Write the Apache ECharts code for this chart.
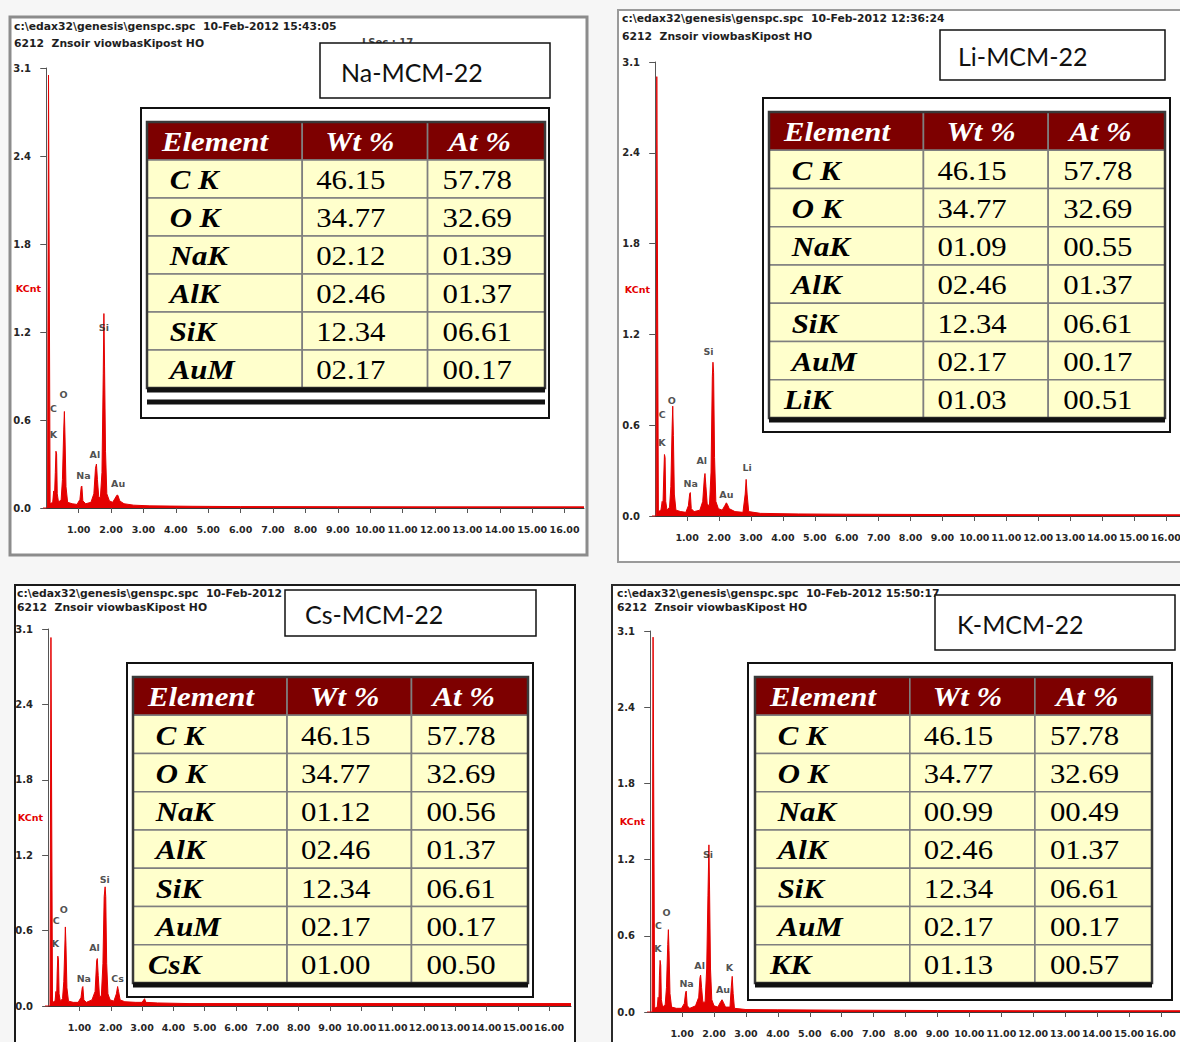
<!DOCTYPE html>
<html><head><meta charset="utf-8">
<script src="https://cdn.jsdelivr.net/npm/echarts@6/dist/echarts.min.js"></script>
<style>html,body{margin:0;padding:0;background:#f6f6f6;}#c{width:1180px;height:1042px;}</style>
</head><body><div id="c"></div>
<script>
// ---------------- DATA ----------------
const sampleTitles = ['Na-MCM-22', 'Li-MCM-22', 'Cs-MCM-22', 'K-MCM-22'];
const headerLine1 = [
  'c:\\edax32\\genesis\\genspc.spc  10-Feb-2012 15:43:05',
  'c:\\edax32\\genesis\\genspc.spc  10-Feb-2012 12:36:24',
  'c:\\edax32\\genesis\\genspc.spc  10-Feb-2012',
  'c:\\edax32\\genesis\\genspc.spc  10-Feb-2012 15:50:17'
];
const headerLine2 = '6212  Znsoir viowbasKipost HO';
const liveTimeNote = 'LSec : 17';
const yAxisName = 'KCnt';
const xTickValues = [1,2,3,4,5,6,7,8,9,10,11,12,13,14,15,16];
const yTickLabels = ['0.0','0.6','1.2','1.8','2.4','3.1'];
const yFullScale = 3.1;

const tableHeaders = ['Element', 'Wt %', 'At %'];

const naElements = ['\u00a0C K','\u00a0O K','\u00a0NaK','\u00a0AlK','\u00a0SiK','\u00a0AuM'];
const naWt = [46.15, 34.77, 2.12, 2.46, 12.34, 2.17];
const naAt = [57.78, 32.69, 1.39, 1.37, 6.61, 0.17];

const liElements = ['\u00a0C K','\u00a0O K','\u00a0NaK','\u00a0AlK','\u00a0SiK','\u00a0AuM','LiK'];
const liWt = [46.15, 34.77, 1.09, 2.46, 12.34, 2.17, 1.03];
const liAt = [57.78, 32.69, 0.55, 1.37, 6.61, 0.17, 0.51];

const csElements = ['\u00a0C K','\u00a0O K','\u00a0NaK','\u00a0AlK','\u00a0SiK','\u00a0AuM','CsK'];
const csWt = [46.15, 34.77, 1.12, 2.46, 12.34, 2.17, 1.00];
const csAt = [57.78, 32.69, 0.56, 1.37, 6.61, 0.17, 0.50];

const kElements = ['\u00a0C K','\u00a0O K','\u00a0NaK','\u00a0AlK','\u00a0SiK','\u00a0AuM','KK'];
const kWt = [46.15, 34.77, 0.99, 2.46, 12.34, 2.17, 1.13];
const kAt = [57.78, 32.69, 0.49, 1.37, 6.61, 0.17, 0.57];

// spectra: [energy keV, KCnt]
const naSpectrum = [[-0.1,0],[0.04,0],[0.07,3.05],[0.09,3.05],[0.12,0.03],[0.2,0.04],[0.23,0.12],[0.25,0.05],[0.28,0.25],[0.30,0.40],[0.32,0.38],[0.34,0.1],[0.38,0.04],[0.46,0.06],[0.50,0.2],[0.54,0.55],[0.56,0.68],[0.58,0.5],[0.61,0.15],[0.66,0.04],[0.8,0.03],[0.95,0.025],[1.04,0.06],[1.08,0.15],[1.10,0.155],[1.13,0.05],[1.22,0.03],[1.38,0.04],[1.47,0.1],[1.52,0.28],[1.55,0.31],[1.58,0.2],[1.62,0.08],[1.67,0.07],[1.72,0.25],[1.76,0.95],[1.78,1.37],[1.80,1.0],[1.83,0.4],[1.87,0.1],[1.95,0.05],[2.05,0.04],[2.13,0.07],[2.18,0.09],[2.21,0.09],[2.27,0.05],[2.4,0.03],[2.7,0.02],[3.2,0.015],[4.5,0.012],[6,0.01],[9,0.009],[12,0.008],[16.6,0.008]];
const liSpectrum = [[-0.1,0],[0.03,0],[0.05,3.0],[0.07,3.0],[0.1,0.03],[0.18,0.04],[0.22,0.1],[0.24,0.05],[0.27,0.28],[0.29,0.42],[0.31,0.4],[0.33,0.1],[0.37,0.04],[0.45,0.06],[0.49,0.2],[0.53,0.6],[0.55,0.75],[0.57,0.55],[0.6,0.15],[0.65,0.04],[0.8,0.03],[0.96,0.025],[1.04,0.07],[1.08,0.15],[1.10,0.16],[1.13,0.05],[1.22,0.03],[1.4,0.04],[1.49,0.1],[1.54,0.26],[1.56,0.29],[1.59,0.2],[1.63,0.08],[1.7,0.07],[1.75,0.3],[1.79,0.95],[1.81,1.05],[1.83,0.98],[1.86,0.4],[1.9,0.1],[1.98,0.05],[2.1,0.04],[2.18,0.07],[2.23,0.09],[2.26,0.08],[2.32,0.05],[2.5,0.03],[2.75,0.025],[2.82,0.15],[2.85,0.25],[2.88,0.15],[2.93,0.03],[3.3,0.018],[4.5,0.014],[6,0.012],[9,0.01],[12,0.009],[16.6,0.008]];
const csSpectrum = [[-0.1,0],[0.06,0],[0.09,3.03],[0.11,3.03],[0.14,0.03],[0.22,0.04],[0.25,0.12],[0.27,0.05],[0.29,0.28],[0.31,0.41],[0.33,0.38],[0.35,0.1],[0.39,0.04],[0.46,0.06],[0.5,0.2],[0.54,0.55],[0.55,0.65],[0.57,0.5],[0.6,0.15],[0.65,0.04],[0.8,0.03],[0.96,0.03],[1.05,0.07],[1.09,0.15],[1.11,0.16],[1.14,0.05],[1.22,0.03],[1.4,0.05],[1.5,0.12],[1.55,0.37],[1.57,0.39],[1.6,0.25],[1.64,0.08],[1.7,0.08],[1.75,0.35],[1.79,0.9],[1.82,0.98],[1.84,0.9],[1.87,0.35],[1.91,0.1],[1.98,0.05],[2.1,0.04],[2.18,0.1],[2.22,0.16],[2.25,0.12],[2.3,0.05],[2.45,0.035],[2.8,0.03],[3.0,0.03],[3.08,0.06],[3.12,0.03],[3.5,0.025],[4.5,0.02],[6,0.02],[8,0.02],[10,0.02],[12,0.02],[14,0.02],[16.7,0.02]];
const kSpectrum = [[-0.1,0],[0.06,0],[0.09,3.05],[0.11,3.05],[0.14,0.03],[0.22,0.04],[0.25,0.12],[0.27,0.05],[0.29,0.3],[0.31,0.42],[0.33,0.38],[0.35,0.1],[0.39,0.04],[0.47,0.06],[0.51,0.2],[0.55,0.55],[0.57,0.67],[0.59,0.5],[0.62,0.15],[0.67,0.04],[0.82,0.03],[0.98,0.03],[1.07,0.07],[1.11,0.16],[1.13,0.17],[1.16,0.05],[1.24,0.03],[1.42,0.05],[1.52,0.12],[1.56,0.28],[1.58,0.30],[1.61,0.2],[1.65,0.08],[1.72,0.08],[1.77,0.35],[1.81,0.95],[1.84,1.36],[1.86,1.0],[1.89,0.35],[1.93,0.1],[2.0,0.05],[2.12,0.04],[2.2,0.08],[2.25,0.1],[2.29,0.08],[2.36,0.04],[2.5,0.04],[2.54,0.2],[2.57,0.29],[2.6,0.15],[2.64,0.03],[3.0,0.02],[4,0.018],[6,0.015],[9,0.012],[12,0.01],[16.6,0.01]];

// peak labels: [text, energy, KCnt]
const naPeakLabels = [['C',0.22,0.70],['K',0.22,0.515],['O',0.53,0.80],['Na',1.15,0.23],['Al',1.50,0.38],['Si',1.78,1.27],['Au',2.22,0.17]];
const liPeakLabels = [['C',0.22,0.69],['K',0.21,0.50],['O',0.52,0.79],['Na',1.11,0.22],['Al',1.46,0.38],['Si',1.67,1.12],['Au',2.23,0.15],['Li',2.88,0.33]];
const csPeakLabels = [['C',0.26,0.70],['K',0.23,0.51],['O',0.50,0.79],['Na',1.14,0.23],['Al',1.48,0.48],['Si',1.81,1.04],['Cs',2.22,0.23]];
const kPeakLabels = [['C',0.26,0.70],['K',0.24,0.52],['O',0.51,0.81],['Na',1.14,0.23],['Al',1.55,0.38],['Si',1.81,1.28],['Au',2.28,0.18],['K',2.48,0.36]];

// ---------------- LAYOUT / STYLE ----------------
const LAYOUT = [
  { frame:[10,17,577,538,'#8c8c8c',3], grid:[43,68,541,440], xMax:16.6, head:[14,26,43], title:[320,43,230,55,341], box:[141,108,408,310], table:[147,122,398,266], doubleLine:true, note:[362,42] },
  { frame:[618,10,580,552,'#9a9a9a',2], grid:[652,62,533,454], xMax:16.6, head:[622,18,36], title:[940,30,225,50,958], box:[763,98,407,334], table:[769,112,396,306] },
  { frame:[15,585,560,470,'#1a1a1a',2], grid:[45,629,526,377], xMax:16.7, head:[17,593,607], title:[285,590,251,46,305], box:[127,663,406,334], table:[133,677,395,306] },
  { frame:[612,585,580,470,'#2a2a2a',2], grid:[647,631,533,381], xMax:16.6, head:[617,593,607], title:[935,595,240,55,957], box:[748,663,424,337], table:[755,677,397,306] }
];
const COL_FRAC = [0.39, 0.315, 0.295];
const HEADER_PAD = [15, 23, 21];
const BODY_PAD = [15, 14, 15];
const RED = '#e40000';
const SANS = 'DejaVu Sans';
const XLABEL_FONT = { fontFamily:SANS, fontWeight:'bold', fontSize:9.5, color:'#262626' };
const YLABEL_FONT = { fontFamily:SANS, fontWeight:'bold', fontSize:10, color:'#262626' };

const spectra = [naSpectrum, liSpectrum, csSpectrum, kSpectrum];
const peakLabels = [naPeakLabels, liPeakLabels, csPeakLabels, kPeakLabels];
const tables = [
  { el: naElements, wt: naWt, at: naAt },
  { el: liElements, wt: liWt, at: liAt },
  { el: csElements, wt: csWt, at: csAt },
  { el: kElements, wt: kWt, at: kAt }
];
const fmt = v => v.toFixed(2).padStart(5, '0');

// ---------------- BUILD ----------------
const grid = [], xAxis = [], yAxis = [], series = [], graphics = [];

LAYOUT.forEach((L, i) => {
  grid.push({ left: L.grid[0], top: L.grid[1], width: L.grid[2], height: L.grid[3], containLabel:false, outerBoundsMode:'none' });
  xAxis.push({
    type:'value', gridIndex:i, min:-0.1, max:L.xMax,
    axisLine:{ show:true, onZero:false, lineStyle:{ color:'#3a3a3a', width:1 } },
    axisTick:{ show:true, length:5, customValues:xTickValues, lineStyle:{ color:'#555' } },
    axisLabel:Object.assign({ customValues:xTickValues, margin:16, formatter:v => v.toFixed(2), hideOverlap:false, showMinLabel:true, showMaxLabel:true }, XLABEL_FONT),
    splitLine:{ show:false }
  });
  yAxis.push({
    type:'value', gridIndex:i, min:0, max:yFullScale, interval:yFullScale/5,
    name:yAxisName, nameLocation:'middle', nameRotate:0, nameGap:2, nameMoveOverlap:false,
    nameTextStyle:{ color:RED, fontFamily:SANS, fontWeight:'bold', fontSize:9.5 },
    axisLine:{ show:true, lineStyle:{ color:'#555', width:1 } },
    axisTick:{ show:true, length:6, lineStyle:{ color:'#555' } },
    axisLabel:Object.assign({ margin:12, showMinLabel:true, showMaxLabel:true, formatter:v => yTickLabels[Math.round(v / (yFullScale/5))] }, YLABEL_FONT),
    splitLine:{ show:false }
  });
  series.push({
    type:'line', xAxisIndex:i, yAxisIndex:i, data:spectra[i], symbol:'none', silent:true, z:2,
    lineStyle:{ color:RED, width:1 }, areaStyle:{ color:RED, opacity:1 }
  });
  series.push({
    type:'scatter', xAxisIndex:i, yAxisIndex:i, symbolSize:0, silent:true, z:3,
    data:peakLabels[i].map(p => ({ name:p[0], value:[p[1], p[2]] })),
    label:{ show:true, position:'inside', formatter:'{b}', fontFamily:SANS, fontWeight:'bold', fontSize:9.5, color:'#222' }
  });

  // frame & decorations
  const f = L.frame;
  graphics.push({ type:'rect', z:-10, shape:{ x:f[0], y:f[1], width:f[2], height:f[3] }, style:{ fill:'#ffffff', stroke:f[4], lineWidth:f[5] } });
  graphics.push({ type:'text', z:1, x:L.head[0], y:L.head[1], style:{ text:headerLine1[i], fontFamily:SANS, fontWeight:'bold', fontSize:10.8, fill:'#1e1e1e', verticalAlign:'middle' } });
  graphics.push({ type:'text', z:1, x:L.head[0], y:L.head[2], style:{ text:headerLine2, fontFamily:SANS, fontWeight:'bold', fontSize:10.8, fill:'#1e1e1e', verticalAlign:'middle' } });
  if (L.note) graphics.push({ type:'text', z:1, x:L.note[0], y:L.note[1], style:{ text:liveTimeNote, fontFamily:SANS, fontWeight:'bold', fontSize:10, fill:'#444', verticalAlign:'middle' } });
  const t = L.title;
  graphics.push({ type:'rect', z:30, shape:{ x:t[0], y:t[1], width:t[2], height:t[3] }, style:{ fill:'#fff', stroke:'#111', lineWidth:1.5 } });
  graphics.push({ type:'text', z:31, x:t[4], y:t[1] + t[3]/2 + 1, style:{ text:sampleTitles[i], fontFamily:'Lato', fontSize:25, fill:'#111', verticalAlign:'middle' } });
  const b = L.box;
  graphics.push({ type:'rect', z:15, shape:{ x:b[0], y:b[1], width:b[2], height:b[3] }, style:{ fill:'#fff', stroke:'#111', lineWidth:2 } });
  const tb = L.table;
  graphics.push({ type:'rect', z:25, shape:{ x:tb[0], y:tb[1], width:tb[2], height:tb[3] }, style:{ fill:null, stroke:'#3a3a3a', lineWidth:2.5 } });
  graphics.push({ type:'line', z:25, shape:{ x1:tb[0], y1:tb[1]+tb[3]+2, x2:tb[0]+tb[2], y2:tb[1]+tb[3]+2 }, style:{ stroke:'#111', lineWidth:5 } });
  if (L.doubleLine) graphics.push({ type:'line', z:25, shape:{ x1:tb[0], y1:tb[1]+tb[3]+14, x2:tb[0]+tb[2], y2:tb[1]+tb[3]+14 }, style:{ stroke:'#111', lineWidth:5 } });
});

// tables
LAYOUT.forEach((L, i) => {
  const gi = 4 + i;
  const T = tables[i];
  const rowKeys = ['header'].concat(T.el);
  grid.push({ left:L.table[0], top:L.table[1], width:L.table[2], height:L.table[3], containLabel:false, outerBoundsMode:'none' });
  xAxis.push({ type:'category', gridIndex:gi, data:tableHeaders, show:false });
  yAxis.push({ type:'category', gridIndex:gi, data:rowKeys, inverse:true, show:false });
  const cells = [], data = [];
  tableHeaders.forEach((h, c) => { cells.push({ text:h, header:true, col:c }); data.push([c, 0]); });
  T.el.forEach((name, r) => {
    [name, fmt(T.wt[r]), fmt(T.at[r])].forEach((txt, c) => {
      cells.push({ text:txt, header:false, col:c }); data.push([c, r + 1]);
    });
  });
  series.push({
    type:'custom', xAxisIndex:gi, yAxisIndex:gi, z:20, silent:true, data:data,
    encode:{ x:0, y:1 },
    renderItem:(params, api) => {
      const cell = cells[params.dataIndex];
      const cs = params.coordSys;
      const r = api.value(1);
      const cy = api.coord([0, r])[1];
      const h = api.size([1, 1])[1];
      let start = 0; for (let k = 0; k < cell.col; k++) start += COL_FRAC[k];
      const x0 = cs.x + cs.width * start;
      const w = cs.width * COL_FRAC[cell.col];
      const italicBold = cell.header || cell.col === 0;
      return { type:'group', children:[
        { type:'rect', shape:{ x:x0, y:cy - h/2, width:w, height:h },
          style:{ fill: cell.header ? '#7d0000' : '#ffffcc', stroke:'#7f7f7f', lineWidth:1.6 } },
        { type:'text', x: x0 + (cell.header ? HEADER_PAD[cell.col] : BODY_PAD[cell.col]), y: cy + 1, scaleX:1.14, z2:5,
          style:{ text:cell.text, x:0, y:0, fontFamily:'Liberation Serif', fontSize:27,
            fontWeight: italicBold ? 'bold' : 'normal', fontStyle: italicBold ? 'italic' : 'normal',
            fill: cell.header ? '#ffffff' : '#000000', align:'left', verticalAlign:'middle' } }
      ]};
    }
  });
});

const chart = echarts.init(document.getElementById('c'), null, { renderer:'svg', width:1180, height:1042 });
chart.setOption({ animation:false, backgroundColor:'transparent', grid, xAxis, yAxis, series, graphic:{ elements:graphics } });
</script></body></html>
